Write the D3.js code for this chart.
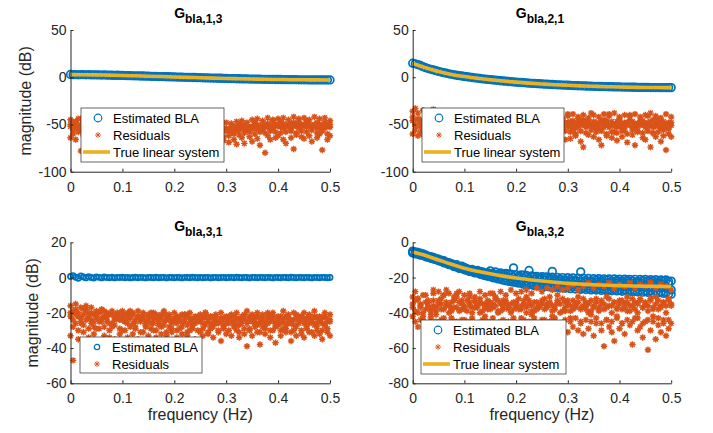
<!DOCTYPE html>
<html>
<head>
<meta charset="utf-8">
<script src="https://cdn.jsdelivr.net/npm/d3@7"></script>
<style>
  body { margin: 0; background: #fff; }
  svg { font-family: "Liberation Sans", Arial, sans-serif; }
</style>
</head>
<body>
<div id="chart"></div>
<script>
// frequency grid of the estimates (Hz)
const freq = [
  0,0.005,0.01,0.015,0.02,0.025,0.03,0.035,0.04,0.045,
  0.05,0.055,0.06,0.065,0.07,0.075,0.08,0.085,0.09,0.095,
  0.1,0.105,0.11,0.115,0.12,0.125,0.13,0.135,0.14,0.145,
  0.15,0.155,0.16,0.165,0.17,0.175,0.18,0.185,0.19,0.195,
  0.2,0.205,0.21,0.215,0.22,0.225,0.23,0.235,0.24,0.245,
  0.25,0.255,0.26,0.265,0.27,0.275,0.28,0.285,0.29,0.295,
  0.3,0.305,0.31,0.315,0.32,0.325,0.33,0.335,0.34,0.345,
  0.35,0.355,0.36,0.365,0.37,0.375,0.38,0.385,0.39,0.395,
  0.4,0.405,0.41,0.415,0.42,0.425,0.43,0.435,0.44,0.445,
  0.45,0.455,0.46,0.465,0.47,0.475,0.48,0.485,0.49,0.495,
  0.5
];
// grid of the true linear system curves
const freqTrue = [0,0.025,0.05,0.075,0.1,0.125,0.15,0.175,0.2,0.225,0.25,
  0.275,0.3,0.325,0.35,0.375,0.4,0.425,0.45,0.475,0.5];

const xTicks = [0, 0.1, 0.2, 0.3, 0.4, 0.5];
const xTickLabels = ['0', '0.1', '0.2', '0.3', '0.4', '0.5'];
const yTicksTop = [-100, -50, 0, 50];
const yTicks31 = [-60, -40, -20, 0, 20];
const yTicks32 = [-80, -60, -40, -20, 0];

// ---- G_bla,1,3
const bla13 = [
  2.9,2.7,2.8,2.6,2.8,2.7, 2.6,2.7,2.5,2.6,2.4, 2.5,2.3,2.4,2.2,2.2, 2.1,2.0,2.1,1.9,1.9,
  1.8,1.7,1.7,1.5,1.5, 1.4,1.3,1.3,1.1,1.1, 1.0,0.9,0.9,0.7,0.7, 0.6,0.5,0.5,0.3,0.3,
  0.2,0.1,0.1,-0.1,-0.1, -0.2,-0.3,-0.3,-0.5,-0.5, -0.6,-0.7,-0.7,-0.9,-0.9, -1.0,-1.1,-1.1,-1.3,-1.3,
  -1.4,-1.4,-1.5,-1.6,-1.6, -1.7,-1.7,-1.8,-1.9,-1.9, -2.0,-2.0,-2.1,-2.2,-2.2, -2.2,-2.3,-2.3,-2.4,-2.4,
  -2.4,-2.5,-2.5,-2.6,-2.6, -2.6,-2.6,-2.7,-2.7,-2.7, -2.7,-2.8,-2.8,-2.8,-2.8, -2.8,-2.9,-2.9,-2.9,-2.9
];
const true13 = [2.8,2.7,2.5,2.2,1.9,1.5,1.1,0.7,0.3,-0.1,-0.5,-0.9,-1.3,-1.6,-1.9,-2.2,-2.4,-2.6,-2.7,-2.8,-2.9];
const res13 = [
  [-50,-55,-48,-52,-57,-51,-54,-49,-56,-53, -55,-52,-58,-50,-54,-57,-53,-51,-56,-55,
   -58,-54,-56,-52,-59,-55,-57,-53,-56,-58, -54,-57,-55,-59,-53,-56,-58,-54,-57,-55,
   -59,-56,-54,-58,-55,-57,-53,-59,-56,-54, -58,-55,-57,-60,-54,-56,-58,-55,-57,-56,
   -54,-57,-53,-55,-52,-56,-54,-51,-55,-53, -52,-55,-50,-54,-51,-53,-49,-52,-54,-50,
   -51,-53,-49,-52,-50,-54,-48,-51,-53,-50, -52,-49,-51,-54,-50,-48,-53,-51,-49,-52, -50],
  [-45,-60,-47,-58,-44,-62,-49,-46,-59,-61, -48,-62,-47,-60,-50,-63,-49,-61,-51,-60,
   -50,-63,-52,-61,-49,-64,-51,-62,-50,-63, -52,-62,-50,-64,-51,-61,-53,-63,-50,-62,
   -52,-64,-51,-62,-53,-63,-50,-61,-52,-64, -51,-63,-52,-62,-50,-64,-49,-61,-51,-63,
   -48,-62,-49,-60,-47,-61,-46,-59,-48,-58, -45,-60,-44,-58,-46,-59,-43,-57,-45,-58,
   -44,-59,-43,-58,-45,-57,-42,-59,-44,-57, -43,-58,-45,-56,-42,-59,-44,-57,-43,-60, -46],
  [-64,-47,-66,-44,-78,-50,-63,-67,-45,-56, -66,-45,-70,-55,-64,-52,-68,-46,-65,-58,
   -67,-47,-62,-68,-55,-48,-66,-59,-70,-53, -61,-67,-48,-66,-58,-69,-49,-65,-60,-68,
   -50,-67,-61,-49,-69,-56,-66,-51,-68,-60, -48,-66,-55,-68,-47,-65,-70,-51,-64,-67,
   -56,-69,-52,-66,-71,-50,-64,-70,-55,-63, -68,-48,-65,-72,-54,-80,-62,-66,-46,-64,
   -62,-47,-66,-70,-52,-64,-76,-61,-47,-63, -65,-46,-62,-68,-51,-64,-60,-77,-54,-66, -62],
  [-52,-56,-51,-54,-50,-55,-53,-57,-51,-54, -52,-55,-50,-54,-56,-52,-55,-51,-53,-57,
   -55,-58,-54,-57,-53,-56,-59,-55,-57,-54, -57,-54,-58,-55,-56,-59,-54,-57,-55,-58,
   -56,-53,-57,-55,-58,-54,-56,-59,-55,-57, -56,-59,-55,-58,-57,-54,-58,-56,-59,-55,
   -57,-55,-58,-53,-56,-54,-52,-55,-53,-56, -53,-51,-54,-52,-55,-50,-53,-51,-55,-52,
   -50,-52,-54,-51,-53,-49,-52,-50,-54,-51, -50,-53,-49,-52,-51,-54,-50,-52,-48,-51, -53]
];

// ---- G_bla,2,1
const bla21 = [
  14.8,14.2,13.4,12.4,11.2,10.1, 9.2,8.4,7.7,6.9,6.1, 5.5,4.8,4.3,3.6,3.1, 2.6,2.1,1.7,1.3,0.8,
  0.5,0.1,-0.3,-0.6,-1.0, -1.3,-1.7,-1.9,-2.3,-2.6, -2.9,-3.1,-3.4,-3.7,-4.0, -4.2,-4.5,-4.7,-5.0,-5.2,
  -5.4,-5.6,-5.8,-6.0,-6.2, -6.4,-6.6,-6.8,-6.9,-7.1, -7.3,-7.4,-7.6,-7.7,-7.9, -8.0,-8.1,-8.3,-8.4,-8.5,
  -8.6,-8.8,-8.9,-9.0,-9.1, -9.2,-9.3,-9.4,-9.5,-9.6, -9.7,-9.8,-9.8,-9.9,-10.0, -10.1,-10.1,-10.2,-10.2,-10.3,
  -10.4,-10.4,-10.5,-10.5,-10.6, -10.6,-10.7,-10.7,-10.8,-10.8, -10.8,-10.9,-10.9,-10.9,-10.9, -11.0,-10.9,-11.0,-11.0,-11.0
];
const true21 = [14.5,10,6,3,0.8,-1,-2.6,-4,-5.2,-6.2,-7.1,-7.9,-8.5,-9.1,-9.6,-10,-10.3,-10.6,-10.8,-10.9,-11];
const res21 = [
  [-42,-50,-45,-53,-47,-40,-52,-46,-49,-44, -51,-47,-53,-45,-50,-48,-54,-46,-52,-49,
   -47,-53,-50,-45,-52,-48,-55,-49,-51,-46, -53,-48,-50,-54,-47,-52,-49,-55,-51,-47,
   -50,-54,-48,-52,-46,-53,-50,-55,-48,-51, -53,-47,-50,-54,-49,-52,-46,-51,-55,-48,
   -52,-47,-50,-54,-48,-51,-45,-53,-49,-52, -47,-51,-54,-48,-50,-46,-53,-49,-52,-47,
   -51,-54,-48,-50,-45,-53,-49,-52,-46,-50, -53,-48,-51,-45,-52,-49,-54,-47,-50,-52, -48],
  [-36,-56,-38,-58,-35,-54,-39,-57,-41,-55, -40,-57,-42,-58,-39,-56,-43,-59,-41,-57,
   -42,-58,-40,-57,-43,-59,-41,-56,-44,-58, -42,-57,-40,-59,-43,-58,-41,-56,-42,-60,
   -43,-57,-41,-58,-44,-59,-40,-57,-42,-58, -41,-59,-43,-57,-40,-58,-42,-60,-44,-57,
   -41,-58,-39,-60,-42,-57,-40,-59,-43,-56, -40,-58,-42,-57,-39,-60,-41,-58,-38,-59,
   -42,-57,-40,-60,-41,-56,-39,-58,-42,-59, -40,-57,-38,-59,-41,-58,-43,-56,-39,-60, -42],
  [-60,-33,-62,-45,-61,-37,-50,-59,-34,-48, -62,-38,-64,-52,-44,-63,-37,-55,-65,-46,
   -60,-36,-66,-50,-62,-39,-64,-53,-61,-45, -63,-38,-55,-66,-44,-62,-50,-67,-39,-61,
   -54,-64,-37,-60,-66,-47,-63,-38,-58,-65, -45,-62,-36,-64,-55,-67,-40,-63,-52,-66,
   -39,-65,-56,-62,-44,-68,-74,-47,-61,-38, -63,-55,-66,-72,-45,-62,-39,-64,-58,-67,
   -44,-63,-56,-69,-40,-61,-72,-57,-46,-64, -66,-41,-74,-59,-63,-45,-68,-62,-77,-55, -63],
  [-46,-52,-44,-49,-54,-47,-43,-50,-53,-47, -48,-45,-51,-49,-46,-53,-48,-50,-45,-52,
   -50,-47,-53,-48,-46,-51,-49,-52,-47,-50, -49,-52,-46,-50,-53,-48,-51,-46,-49,-53,
   -47,-50,-52,-48,-51,-49,-46,-51,-53,-48, -50,-52,-47,-49,-53,-46,-50,-48,-52,-51,
   -48,-53,-46,-50,-52,-47,-49,-51,-46,-50, -52,-48,-50,-46,-53,-49,-51,-47,-50,-53,
   -47,-50,-52,-48,-51,-47,-53,-49,-51,-46, -50,-52,-47,-53,-49,-51,-46,-50,-53,-48, -51]
];

// ---- G_bla,3,1
const bla31 = [
  0.6,1.1,0.2,-0.4,0.9,0.3,-0.2,0.5,0.0,-0.3, 0.4,0.1,-0.2,0.3,0.0,-0.1,0.2,-0.2,0.1,0.0,
  0.2,-0.1,0.1,-0.2,0.0,0.2,-0.1,0.1,0.0,-0.2, 0.1,0.0,-0.1,0.2,-0.1,0.0,0.1,-0.2,0.1,0.0,
  -0.1,0.1,0.0,-0.2,0.1,0.0,-0.1,0.2,0.0,-0.1, 0.1,-0.1,0.0,0.1,-0.2,0.0,0.1,-0.1,0.0,0.1,
  -0.1,0.0,0.1,-0.1,0.2,0.0,-0.1,0.1,0.0,-0.2, 0.1,0.0,-0.1,0.1,0.0,-0.1,0.1,0.0,-0.2,0.1,
  0.0,-0.1,0.1,0.0,-0.1,0.2,0.0,-0.1,0.1,0.0, -0.1,0.1,0.0,-0.2,0.1,0.0,-0.1,0.1,0.0,-0.1, 0.0
];
const res31 = [
  [-20,-24,-18,-22,-25,-21,-19,-23,-26,-21, -23,-20,-25,-22,-24,-21,-26,-23,-20,-24,
   -22,-25,-23,-21,-26,-24,-22,-25,-23,-27, -24,-22,-26,-23,-25,-21,-27,-24,-22,-25,
   -23,-26,-24,-21,-25,-27,-23,-24,-26,-22, -25,-23,-27,-24,-22,-26,-24,-25,-23,-27,
   -24,-26,-22,-25,-23,-27,-24,-21,-26,-24, -23,-25,-22,-26,-24,-27,-23,-25,-22,-26,
   -24,-22,-25,-27,-23,-26,-24,-21,-25,-23, -26,-24,-22,-25,-27,-23,-24,-26,-22,-25, -24],
  [-16,-28,-15,-30,-17,-27,-18,-29,-17,-28, -19,-29,-18,-28,-20,-30,-19,-27,-21,-29,
   -19,-30,-20,-28,-21,-29,-19,-31,-20,-28, -21,-29,-20,-30,-22,-28,-20,-31,-21,-29,
   -20,-30,-22,-28,-21,-31,-20,-29,-22,-30, -21,-29,-20,-31,-22,-28,-21,-30,-20,-29,
   -22,-30,-21,-28,-20,-31,-22,-29,-19,-30, -21,-28,-20,-31,-22,-29,-21,-30,-20,-28,
   -22,-30,-19,-29,-21,-31,-20,-28,-22,-30, -20,-29,-21,-31,-19,-28,-22,-30,-20,-29, -21],
  [-33,-47,-21,-35,-26,-31,-16,-34,-24,-32, -29,-36,-19,-33,-25,-34,-28,-35,-22,-32,
   -30,-25,-34,-19,-32,-28,-35,-23,-31,-27, -33,-20,-30,-34,-26,-32,-19,-33,-28,-31,
   -24,-34,-29,-32,-21,-33,-30,-27,-35,-25, -31,-33,-20,-32,-29,-34,-26,-31,-36,-28,
   -32,-22,-33,-27,-30,-34,-25,-32,-39,-29, -33,-26,-31,-38,-28,-32,-20,-34,-30,-37,
   -27,-33,-29,-31,-24,-36,-30,-33,-26,-32, -34,-28,-31,-25,-33,-30,-32,-35,-27,-31, -33],
  [-22,-19,-26,-20,-23,-18,-24,-21,-20,-25, -21,-25,-23,-19,-22,-26,-21,-24,-23,-20,
   -24,-21,-26,-23,-20,-25,-22,-24,-21,-25, -22,-26,-24,-21,-27,-23,-25,-22,-24,-26,
   -25,-22,-24,-26,-23,-21,-25,-27,-23,-24, -23,-26,-22,-25,-27,-24,-22,-26,-25,-23,
   -26,-23,-25,-22,-27,-24,-26,-23,-25,-22, -25,-23,-27,-24,-21,-25,-26,-22,-24,-27,
   -23,-26,-24,-22,-26,-24,-27,-23,-25,-22, -25,-23,-26,-24,-22,-26,-25,-23,-27,-24, -25]
];

// ---- G_bla,3,2
const bla32 = [
  [-5.0,-6.2,-5.8,-7.0,-6.6, -7.8,-7.9,-8.9,-8.6,-9.8, -9.6,-10.8,-10.4,-11.9,-11.5,
   -12.1,-13.4,-12.7,-14.4,-13.6, -15.2,-14.9,-16.3,-15.4,-17.1, -15.9,-18.0,-16.8,-18.9,-17.2,
   -19.5,-17.6,-20.3,-18.1,-21.0, -18.0,-21.8,-17.9,-22.3,-14.5, -22.8,-19.2,-23.1,-18.6,-23.6,
   -16.0,-24.0,-19.5,-24.3,-20.0, -24.6,-19.8,-25.0,-20.6,-16.5, -21.1,-25.2,-20.8,-25.4,-21.3,
   -25.6,-21.0,-25.3,-21.6,-25.8, -16.8,-26.0,-21.5,-26.2,-22.0, -26.3,-21.4,-26.5,-21.8,-26.7,
   -21.2,-27.0,-22.1,-26.8,-21.6, -27.2,-22.0,-27.0,-21.5,-27.4, -21.9,-27.6,-22.3,-27.3,-21.7,
   -27.8,-22.1,-27.5,-21.9,-28.0, -22.4,-28.2,-21.8,-28.6,-22.2, -29.5],
  [-5.8,-5.4,-6.8,-6.1,-7.4, -7.2,-8.4,-8.1,-9.3,-9.1, -10.3,-10.1,-11.4,-11.2,-12.4,
   -12.9,-13.0,-14.0,-13.8,-14.9, -14.3,-16.0,-15.6,-16.7,-16.2, -17.3,-16.5,-18.4,-17.6,-19.3,
   -18.4,-20.1,-19.2,-20.8,-19.6, -21.5,-20.2,-22.1,-20.7,-22.6, -21.1,-23.2,-21.6,-23.8,-22.0,
   -24.1,-22.4,-24.6,-22.7,-24.8, -23.0,-25.1,-23.2,-25.3,-23.5, -25.6,-23.7,-25.9,-23.9,-26.1,
   -24.1,-26.3,-24.2,-26.5,-24.4, -26.7,-24.5,-26.8,-24.7,-27.0, -24.8,-27.1,-24.9,-27.3,-25.0,
   -27.4,-25.1,-27.5,-25.2,-27.6, -25.3,-27.8,-25.3,-27.9,-25.4, -28.0,-25.5,-28.1,-25.6,-28.3,
   -25.6,-28.4,-25.7,-28.6,-25.8, -28.8,-25.9,-29.0,-26.0,-29.3, -27.0],
  [-6.0,-6.5,-6.3,-7.3,-7.0, -8.2,-8.5,-9.0,-9.5,-9.7, -10.5,-10.8,-11.6,-11.8,-12.7,
   -12.6,-13.8,-13.9,-14.8,-14.6, -15.6,-15.3,-16.6,-16.2,-17.4, -16.6,-17.9,-17.4,-18.7,-18.1,
   -16.2,-18.0,-16.8,-18.6,-17.4, -19.0,-17.6,-19.5,-18.0,-19.8, -18.3,-20.2,-18.5,-20.5,-18.8,
   -20.8,-19.1,-21.0,-19.3,-21.2, -19.5,-21.5,-19.6,-21.7,-19.8, -21.9,-19.9,-22.0,-20.0,-22.2,
   -20.1,-22.3,-20.2,-22.4,-20.3, -22.5,-20.4,-22.6,-20.5,-22.7, -20.6,-22.8,-20.6,-22.9,-20.7,
   -23.0,-20.8,-23.0,-20.8,-23.1, -20.9,-23.2,-20.9,-23.2,-21.0, -23.3,-21.0,-23.3,-21.1,-23.4,
   -21.1,-23.4,-21.2,-23.5,-21.2, -23.5,-21.3,-23.6,-21.3,-23.7, -22.0]
];
const true32 = [-5.5,-7.5,-10,-12.5,-14.7,-16.4,-17.9,-19.2,-20.3,-21.2,-22,-22.7,-23.3,-23.7,-24.1,-24.4,-24.6,-24.8,-24.9,-25,-25.1];
const res32 = [
  [-37,-33,-40,-35,-42,-38,-34,-41,-36,-39, -33,-38,-30,-36,-40,-34,-37,-31,-39,-35,
   -38,-33,-36,-40,-34,-37,-32,-39,-35,-38, -34,-37,-32,-39,-35,-38,-33,-36,-40,-34,
   -37,-32,-38,-35,-40,-33,-36,-39,-34,-37, -33,-38,-35,-31,-39,-36,-34,-40,-32,-37,
   -35,-39,-33,-37,-31,-38,-36,-34,-40,-33, -37,-32,-39,-35,-38,-31,-36,-40,-34,-37,
   -33,-38,-35,-31,-39,-36,-34,-40,-32,-37, -35,-39,-33,-37,-31,-38,-36,-34,-40,-33, -36],
  [-31,-45,-32,-44,-30,-46,-33,-43,-29,-45, -28,-44,-30,-46,-29,-43,-31,-45,-28,-44,
   -30,-45,-29,-43,-31,-46,-28,-44,-30,-45, -29,-43,-31,-46,-28,-44,-30,-45,-27,-43,
   -29,-46,-28,-44,-27,-45,-29,-43,-26,-46, -28,-44,-26,-45,-27,-43,-25,-46,-27,-44,
   -26,-45,-24,-43,-27,-46,-25,-44,-23,-45, -26,-43,-24,-46,-25,-44,-23,-45,-26,-43,
   -24,-46,-25,-44,-23,-45,-26,-43,-24,-46, -25,-44,-23,-45,-26,-43,-24,-46,-25,-44, -27],
  [-42,-28,-48,-36,-44,-30,-47,-39,-27,-41, -48,-35,-43,-27,-50,-38,-45,-29,-47,-33,
   -44,-49,-31,-46,-37,-51,-34,-48,-42,-36, -47,-29,-50,-40,-45,-33,-49,-38,-46,-52,
   -35,-48,-43,-50,-31,-47,-41,-49,-37,-51, -44,-50,-36,-48,-42,-53,-30,-47,-49,-39,
   -51,-43,-48,-35,-50,-45,-52,-38,-49,-41, -53,-46,-37,-50,-59,-44,-48,-51,-56,-42,
   -49,-46,-52,-39,-47,-58,-43,-50,-48,-54, -45,-61,-50,-42,-55,-47,-51,-44,-53,-49, -46],
  [-35,-39,-32,-37,-40,-34,-36,-38,-33,-37, -35,-32,-38,-34,-36,-39,-33,-37,-34,-38,
   -36,-39,-34,-37,-33,-36,-40,-35,-37,-33, -38,-35,-36,-33,-39,-36,-34,-37,-35,-38,
   -34,-38,-36,-33,-37,-35,-39,-34,-38,-36, -35,-32,-37,-34,-36,-38,-33,-35,-39,-34,
   -33,-36,-38,-35,-34,-37,-32,-36,-35,-39, -36,-34,-38,-33,-35,-37,-32,-36,-34,-38,
   -35,-33,-37,-34,-36,-32,-38,-35,-33,-37, -34,-36,-32,-38,-35,-33,-37,-34,-36,-32, -35]
];

const blue = '#0072BD', orange = '#D95319', yellow = '#EDB120', ink = '#262626';
const font = '"Liberation Sans", Arial, sans-serif';

const panels = [
  { sub: 'bla,1,3', left: 70.5, top: 30, w: 259.5, h: 141.7, yDomain: [-100, 50], yTicks: yTicksTop,
    bla: [bla13], blaR: 3.8, res: res13, tru: true13, ylabelX: 26, xlabel: false,
    legend: { x: 81, y: 108, w: 143, h: 54, r: 3.8 } },
  { sub: 'bla,2,1', left: 412.7, top: 30, w: 258.5, h: 141.7, yDomain: [-100, 50], yTicks: yTicksTop,
    bla: [bla21], blaR: 3.8, res: res21, tru: true21, ylabelX: null, xlabel: false,
    legend: { x: 422, y: 108, w: 142, h: 54, r: 3.8 } },
  { sub: 'bla,3,1', left: 70.5, top: 242.3, w: 259.5, h: 141, yDomain: [-60, 20], yTicks: yTicks31,
    bla: [bla31], blaR: 2.6, res: res31, tru: null, ylabelX: 33, xlabel: true,
    legend: { x: 80, y: 337, w: 122, h: 36, r: 2.7 } },
  { sub: 'bla,3,2', left: 412.7, top: 242.3, w: 258.5, h: 141, yDomain: [-80, 0], yTicks: yTicks32,
    bla: bla32, blaR: 3.8, res: res32, tru: true32, ylabelX: null, xlabel: true,
    legend: { x: 421, y: 320, w: 145, h: 54, r: 3.8 } }
];

// MATLAB-like '*' marker
const star = 'M-3.2,0H3.2M0,-3.2V3.2M-2.3,-2.3L2.3,2.3M-2.3,2.3L2.3,-2.3';
const starLegend = 'M-3,0H3M0,-3V3M-2.1,-2.1L2.1,2.1M-2.1,2.1L2.1,-2.1';

const svg = d3.select('#chart').append('svg')
  .attr('width', 713).attr('height', 433);

panels.forEach(p => {
  const g = svg.append('g').attr('transform', `translate(${p.left},${p.top})`);
  const x = d3.scaleLinear().domain([0, 0.5]).range([0, p.w]);
  const y = d3.scaleLinear().domain(p.yDomain).range([p.h, 0]);

  // estimated BLA
  p.bla.forEach(series => {
    g.append('g').selectAll('circle').data(series).join('circle')
      .attr('cx', (d, i) => x(freq[i]))
      .attr('cy', d => y(d))
      .attr('r', p.blaR)
      .attr('fill', 'none')
      .attr('stroke', blue)
      .attr('stroke-width', 1.7);
  });

  // residuals
  p.res.forEach(series => {
    g.append('g').selectAll('path').data(series).join('path')
      .attr('d', star)
      .attr('transform', (d, i) => `translate(${x(freq[i])},${y(d)})`)
      .attr('fill', 'none')
      .attr('stroke', orange)
      .attr('stroke-width', 1.45);
  });

  // true linear system
  if (p.tru) {
    g.append('path').datum(p.tru)
      .attr('d', d3.line().x((d, i) => x(freqTrue[i])).y(d => y(d)).curve(d3.curveMonotoneX))
      .attr('fill', 'none')
      .attr('stroke', yellow)
      .attr('stroke-width', 3.6);
  }

  // axes (inward ticks, no box)
  const ax = g.append('g').attr('transform', `translate(0,${p.h})`)
    .call(d3.axisBottom(x).tickValues(xTicks).tickFormat((d, i) => xTickLabels[i])
      .tickSize(-3).tickSizeOuter(0).tickPadding(10));
  const ay = g.append('g')
    .call(d3.axisLeft(y).tickValues(p.yTicks).tickFormat(d => String(d))
      .tickSize(-3).tickSizeOuter(0).tickPadding(4));
  [ax, ay].forEach(a => {
    a.attr('font-family', font).attr('font-size', 14);
    a.select('.domain').attr('stroke', ink);
    a.selectAll('.tick line').attr('stroke', ink);
    a.selectAll('.tick text').attr('fill', ink);
  });

  // title
  const t = svg.append('text')
    .attr('x', p.left + p.w / 2 - 2)
    .attr('y', p.top - 11.7)
    .attr('text-anchor', 'middle')
    .attr('font-weight', 'bold')
    .attr('fill', '#000');
  t.append('tspan').attr('font-size', 14).text('G');
  t.append('tspan').attr('font-size', 12).attr('dy', 5).text(p.sub);

  if (p.ylabelX !== null) {
    svg.append('text')
      .attr('transform', `translate(${p.ylabelX},${p.top + p.h / 2}) rotate(-90)`)
      .attr('text-anchor', 'middle')
      .attr('dy', '0.32em')
      .attr('font-size', 16)
      .attr('fill', ink)
      .text('magnitude (dB)');
  }
  if (p.xlabel) {
    svg.append('text')
      .attr('x', p.left + p.w / 2)
      .attr('y', 420)
      .attr('text-anchor', 'middle')
      .attr('font-size', 16)
      .attr('fill', ink)
      .text('frequency (Hz)');
  }

  // legend
  const L = p.legend;
  const lg = svg.append('g').attr('transform', `translate(${L.x},${L.y})`);
  lg.append('rect').attr('width', L.w).attr('height', L.h)
    .attr('fill', '#fff').attr('stroke', ink).attr('stroke-width', 0.7);
  const entries = ['Estimated BLA', 'Residuals'];
  if (p.tru) entries.push('True linear system');
  entries.forEach((label, i) => {
    const cy = 10 + i * 17;
    if (i === 0) {
      lg.append('circle').attr('cx', 17).attr('cy', cy).attr('r', L.r)
        .attr('fill', 'none').attr('stroke', blue).attr('stroke-width', 1.2);
    } else if (i === 1) {
      lg.append('path').attr('d', starLegend).attr('transform', `translate(17,${cy})`)
        .attr('fill', 'none').attr('stroke', orange).attr('stroke-width', 0.9);
    } else {
      lg.append('line').attr('x1', 2).attr('x2', 29).attr('y1', cy).attr('y2', cy)
        .attr('stroke', yellow).attr('stroke-width', 3.6);
    }
    lg.append('text').attr('x', 32).attr('y', cy).attr('dy', '0.35em')
      .attr('font-size', 13).attr('fill', '#000').text(label);
  });
});
</script>
</body>
</html>
